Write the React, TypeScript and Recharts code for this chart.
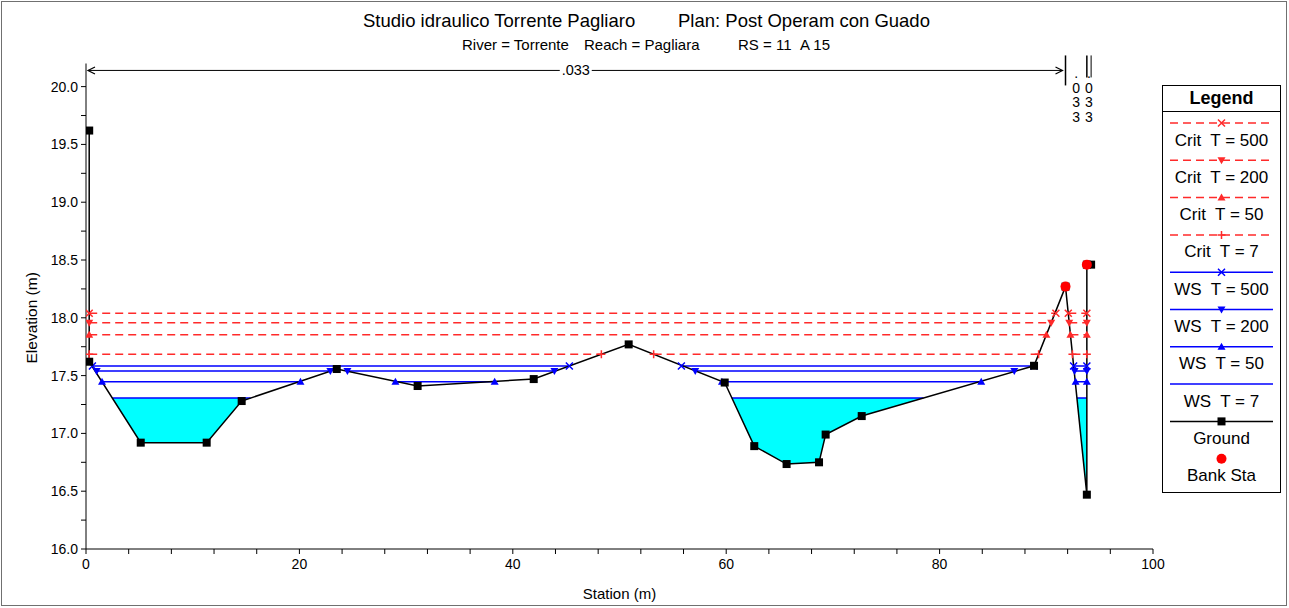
import React from 'react'
import { ComposedChart, Line, Area, XAxis, YAxis, ReferenceLine, Legend } from 'recharts'

const FONT = '"Liberation Sans", Arial, sans-serif'

// ground profile at RS 11 (station m, elevation m)
const groundSta = [0.3, 0.3, 5.13, 11.31, 14.59, 23.5, 31.08, 41.96, 50.86, 59.86, 62.63, 65.66, 68.7, 69.32, 72.7, 88.85, 91.8, 93.8, 93.8, 94.2]
const groundElev = [19.62, 17.62, 16.92, 16.92, 17.28, 17.557, 17.41, 17.47, 17.77, 17.44, 16.89, 16.735, 16.75, 16.99, 17.15, 17.585, 18.27, 16.47, 18.46, 18.46]

const bankSta = [91.8, 93.8]
const bankElev = [18.27, 18.46]

// water surface profiles, each drawn between the stations where it meets the ground
const wsNames = ['WS  T = 500', 'WS  T = 200', 'WS  T = 50', 'WS  T = 7']
const wsElev = [17.583, 17.54, 17.447, 17.306]
const wsReaches = [
  [[0.6, 45.3], [55.8, 88.85], [92.56, 93.8]],
  [[1.0, 22.9], [24.5, 43.9], [57.1, 87.0], [92.65, 93.8]],
  [[1.5, 20.1], [29.0, 38.3], [59.6, 83.9], [92.75, 93.8]],
  [[2.49, 15.43], [60.53, 78.49], [92.87, 93.8]],
]

// critical depth
const critNames = ['Crit  T = 500', 'Crit  T = 200', 'Crit  T = 50', 'Crit  T = 7']
const critElev = [18.039, 17.958, 17.854, 17.684]
const critReaches = [
  [[0.3, 90.9], [92.06, 93.8]],
  [[0.3, 90.46], [92.15, 93.8]],
  [[0.3, 90.01], [92.26, 93.8]],
  [[0.3, 48.3], [53.2, 89.28], [92.45, 93.8]],
]

// wetted section for T = 7
const poolSta = [
  [2.49, 5.13, 11.31, 14.59, 15.43],
  [60.53, 62.63, 65.66, 68.7, 69.32, 72.7, 78.49],
  [92.87, 93.8],
]
const poolBed = [
  [17.306, 16.92, 16.92, 17.28, 17.306],
  [17.306, 16.89, 16.735, 16.75, 16.99, 17.15, 17.306],
  [17.306, 16.47],
]

// Manning's n subsections
const nSta = [0, 91.8, 93.8, 94.2]
const nValues = ['.033', '.033', '.033']
const nLevel = 20.14

const titleParts = [
  { text: 'Studio idraulico Torrente Pagliaro', left: 363 },
  { text: 'Plan: Post Operam con Guado', left: 678 },
]
const subtitleParts = [
  { text: 'River = Torrente', left: 462 },
  { text: 'Reach = Pagliara', left: 584 },
  { text: 'RS = 11', left: 738 },
  { text: 'A 15', left: 800 },
]

const xTicks = Array.from({ length: 26 }, (_, i) => i * 4)
const yTicks = Array.from({ length: 17 }, (_, i) => 16 + i * 0.25)

type Mk = 'x' | 'down' | 'up' | 'plus' | 'none' | 'square' | 'circle'
const wsMarks: Mk[] = ['x', 'down', 'up', 'none']
const critMarks: Mk[] = ['x', 'down', 'up', 'plus']

const WS_BLUE = '#0000ff'
const CRIT_RED = '#ff2a2a'

const toSegments = (elev: number, reaches: number[][]) =>
  reaches.flatMap(([a, b]) => [
    { x: a, y: elev },
    { x: b, y: elev },
    { x: b, y: null },
  ])

const groundData = groundSta.map((x, i) => ({ x, y: groundElev[i] }))
const bankData = bankSta.map((x, i) => ({ x, y: bankElev[i] }))
const pools = poolSta.map((sta, p) =>
  sta.map((x, i) => ({ x, bed: poolBed[p][i], ws: wsElev[3] }))
)

function marker(kind: Mk, cx: number, cy: number, color: string) {
  switch (kind) {
    case 'x':
      return <path d={`M${cx - 3.5},${cy - 3.5}L${cx + 3.5},${cy + 3.5}M${cx - 3.5},${cy + 3.5}L${cx + 3.5},${cy - 3.5}`} stroke={color} strokeWidth={1.5} fill="none" />
    case 'down':
      return <path d={`M${cx - 4},${cy - 3}L${cx + 4},${cy - 3}L${cx},${cy + 4}Z`} fill={color} />
    case 'up':
      return <path d={`M${cx - 4},${cy + 3}L${cx + 4},${cy + 3}L${cx},${cy - 4}Z`} fill={color} />
    case 'plus':
      return <path d={`M${cx - 4},${cy}L${cx + 4},${cy}M${cx},${cy - 4}L${cx},${cy + 4}`} stroke={color} strokeWidth={1.5} />
    case 'square':
      return <rect x={cx - 4} y={cy - 4} width={8} height={8} fill={color} />
    case 'circle':
      return <circle cx={cx} cy={cy} r={5} fill={color} />
    default:
      return null
  }
}

const dotOf = (kind: Mk, color: string) => (p: any) => {
  const ok = p.cx != null && p.cy != null && p.value != null && !Number.isNaN(p.cy)
  return <g key={`d${p.index}`}>{ok ? marker(kind, p.cx, p.cy, color) : null}</g>
}

const YTick = ({ x, y, payload }: any) => {
  const v = payload.value
  if (Math.abs(v * 2 - Math.round(v * 2)) > 1e-6) return <g />
  return (
    <text x={x} y={y} dy={5} textAnchor="end" fontSize={14} fontFamily={FONT} fill="#000">
      {v.toFixed(1)}
    </text>
  )
}

const XTick = ({ x, y, payload }: any) => {
  const v = payload.value
  if (v % 20 !== 0) return <g />
  return (
    <text x={x} y={y} dy={10} textAnchor="middle" fontSize={14} fontFamily={FONT} fill="#000">
      {v}
    </text>
  )
}

// Manning's n band along the top of the plot
const nShape = (label: string) => (p: any) => {
  const { x1, x2, y1 } = p
  if (x2 - x1 > 60) {
    const mid = (x1 + x2) / 2
    const tw = 32
    return (
      <g>
        <line x1={x1 + 2} y1={y1} x2={x2 - 3} y2={y1} stroke="#000" strokeWidth={1} />
        <path d={`M${x1 + 9},${y1 - 3.5}L${x1 + 2},${y1}L${x1 + 9},${y1 + 3.5}`} stroke="#000" fill="none" strokeWidth={1.2} />
        <path d={`M${x2 - 10},${y1 - 3.5}L${x2 - 3},${y1}L${x2 - 10},${y1 + 3.5}`} stroke="#000" fill="none" strokeWidth={1.2} />
        <line x1={x2} y1={y1 - 15} x2={x2} y2={y1 + 15} stroke="#000" strokeWidth={1.5} />
        <rect x={mid - tw / 2} y={y1 - 8} width={tw} height={16} fill="#fff" />
        <text x={mid} y={y1 + 5} textAnchor="middle" fontSize={14.5} fontFamily={FONT} fill="#000">
          {label}
        </text>
      </g>
    )
  }
  const mid = (x1 + x2) / 2
  return (
    <g>
      <line x1={x2} y1={y1 - 15} x2={x2} y2={y1 + 7} stroke="#000" strokeWidth={x2 - x1 > 10 ? 1.5 : 1} />
      {label.split('').map((c, i) => (
        <text key={i} x={mid} y={y1 + 8 + i * 14.5} textAnchor="middle" fontSize={14} fontFamily={FONT} fill="#000">
          {c}
        </text>
      ))}
    </g>
  )
}

const legendRows: { name: string; kind: Mk; color: string; dash?: string; line: boolean }[] = [
  ...critNames.map((name, i) => ({ name, kind: critMarks[i], color: CRIT_RED, dash: '8 5', line: true })),
  ...wsNames.map((name, i) => ({ name, kind: wsMarks[i], color: WS_BLUE, line: true })),
  { name: 'Ground', kind: 'square' as Mk, color: '#000', line: true },
  { name: 'Bank Sta', kind: 'circle' as Mk, color: '#ff0000', line: false },
]

const LegendBox = () => (
  <div
    style={{
      width: 119,
      height: 408,
      border: '1px solid #000',
      boxSizing: 'border-box',
      background: '#fff',
      fontFamily: FONT,
    }}
  >
    <div
      style={{
        height: 25,
        borderBottom: '1px solid #000',
        textAlign: 'center',
        fontWeight: 'bold',
        fontSize: 18,
        lineHeight: '25px',
      }}
    >
      Legend
    </div>
    <svg width={117} height={380} style={{ display: 'block' }}>
      {legendRows.map((r, i) => {
        const ly = 11 + i * 37.3
        return (
          <g key={r.name}>
            {r.line && (
              <line x1={7} y1={ly} x2={110} y2={ly} stroke={r.color} strokeWidth={1.5} strokeDasharray={r.dash} />
            )}
            {marker(r.kind, 58.5, ly, r.color)}
            <text x={58.5} y={ly + 22.5} textAnchor="middle" fontSize={17} fontFamily={FONT} fill="#000" style={{ whiteSpace: 'pre' }}>
              {r.name}
            </text>
          </g>
        )
      })}
    </svg>
  </div>
)

export default function App() {
  return (
    <div style={{ position: 'relative', width: 1289, height: 608, background: '#fff', fontFamily: FONT }}>
      <style>{'body{margin:0}'}</style>
      <div
        style={{
          position: 'absolute',
          left: 1,
          top: 1,
          width: 1286,
          height: 605,
          border: '1.5px solid #707070',
          boxSizing: 'border-box',
        }}
      />
      {titleParts.map((t) => (
        <div key={t.text} style={{ position: 'absolute', left: t.left, top: 10, fontSize: 18.5, whiteSpace: 'pre' }}>
          {t.text}
        </div>
      ))}
      {subtitleParts.map((t) => (
        <div key={t.text} style={{ position: 'absolute', left: t.left, top: 36, fontSize: 15, whiteSpace: 'pre' }}>
          {t.text}
        </div>
      ))}
      <div style={{ position: 'absolute', left: 0, top: 0 }}>
        <ComposedChart width={1289} height={608} margin={{ top: 63.5, right: 136, bottom: 0, left: 0 }}>
          <XAxis
            type="number"
            dataKey="x"
            domain={[0, 100]}
            ticks={xTicks}
            interval={0}
            tick={<XTick />}
            tickSize={5}
            tickMargin={5}
            height={59}
            stroke="#000"
            allowDataOverflow
            label={{
              content: ({ viewBox }: any) => (
                <text x={viewBox.x + viewBox.width / 2} y={viewBox.y + 50} textAnchor="middle" fontSize={15} fontFamily={FONT} fill="#000">
                  Station (m)
                </text>
              ),
            }}
          />
          <YAxis
            type="number"
            domain={[16, 20.2]}
            ticks={yTicks}
            interval={0}
            tick={<YTick />}
            tickSize={5}
            tickMargin={3}
            width={86}
            stroke="#000"
            allowDataOverflow
            label={{
              content: ({ viewBox }: any) => {
                const cx = viewBox.x + 33
                const cy = viewBox.y + viewBox.height * (2.2 / 4.2)
                return (
                  <text x={cx} y={cy} transform={`rotate(-90 ${cx} ${cy})`} textAnchor="middle" dominantBaseline="middle" fontSize={15.5} fontFamily={FONT} fill="#000">
                    Elevation (m)
                  </text>
                )
              },
            }}
          />
          <Legend
            content={<LegendBox />}
            layout="vertical"
            align="center"
            verticalAlign="middle"
            wrapperStyle={{ left: 1162, top: 85, width: 119, height: 408 }}
          />

          {pools.map((pool, i) => (
            <Area
              key={`pool${i}`}
              data={pool}
              dataKey={(d: any) => [d.bed, d.ws]}
              type="linear"
              stroke="none"
              fill="#00ffff"
              fillOpacity={1}
              dot={false}
              activeDot={false}
              isAnimationActive={false}
              legendType="none"
            />
          ))}

          {wsNames.map((name, i) => (
            <Line
              key={name}
              name={name}
              data={toSegments(wsElev[i], wsReaches[i])}
              dataKey="y"
              type="linear"
              stroke={WS_BLUE}
              strokeWidth={1.5}
              dot={dotOf(wsMarks[i], WS_BLUE)}
              activeDot={false}
              isAnimationActive={false}
            />
          ))}

          {critNames.map((name, i) => (
            <Line
              key={name}
              name={name}
              data={toSegments(critElev[i], critReaches[i])}
              dataKey="y"
              type="linear"
              stroke={CRIT_RED}
              strokeWidth={1.5}
              strokeDasharray="8 5"
              dot={dotOf(critMarks[i], CRIT_RED)}
              activeDot={false}
              isAnimationActive={false}
            />
          ))}

          <Line
            name="Ground"
            data={groundData}
            dataKey="y"
            type="linear"
            stroke="#000"
            strokeWidth={1.5}
            dot={dotOf('square', '#000')}
            activeDot={false}
            isAnimationActive={false}
          />
          <Line
            name="Bank Sta"
            data={bankData}
            dataKey="y"
            type="linear"
            stroke="none"
            dot={dotOf('circle', '#ff0000')}
            activeDot={false}
            isAnimationActive={false}
          />

          {nValues.map((v, i) => (
            <ReferenceLine
              key={`n${i}`}
              segment={[
                { x: nSta[i], y: nLevel },
                { x: nSta[i + 1], y: nLevel },
              ]}
              ifOverflow="visible"
              shape={nShape(v)}
            />
          ))}
        </ComposedChart>
      </div>
    </div>
  )
}
